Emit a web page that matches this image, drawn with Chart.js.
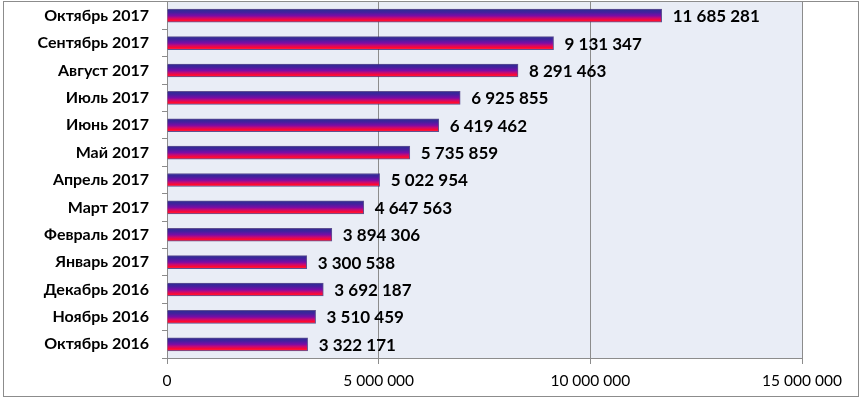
<!DOCTYPE html>
<html>
<head>
<meta charset="utf-8">
<script src="https://cdn.jsdelivr.net/npm/chart.js@4/dist/chart.umd.min.js"></script>
<style>
html,body{margin:0;padding:0;background:#fff;}
#wrap{width:862px;height:399px;position:relative;}
</style>
</head>
<body>
<div id="wrap"><canvas id="c" width="862" height="399"></canvas></div>
<script>
const categories = ["Октябрь 2016","Ноябрь 2016","Декабрь 2016","Январь 2017","Февраль 2017","Март 2017","Апрель 2017","Май 2017","Июнь 2017","Июль 2017","Август 2017","Сентябрь 2017","Октябрь 2017"];
const values = [3322171,3510459,3692187,3300538,3894306,4647563,5022954,5735859,6419462,6925855,8291463,9131347,11685281];
const xTicks = [0,5000000,10000000,15000000];

function fmt(v){ return String(Math.round(v)).replace(/\B(?=(\d{3})+(?!\d))/g, ' '); }

const BAR_T = 13;

const bgPlugin = {
  id:'bg',
  beforeDraw(chart){
    const {ctx, chartArea:a} = chart;
    ctx.save();
    ctx.fillStyle = '#e9edf6';
    ctx.fillRect(a.left, a.top, a.right-a.left, a.bottom-a.top);
    ctx.restore();
  },
  afterDraw(chart){
    const ctx = chart.ctx;
    ctx.save();
    ctx.strokeStyle = '#8c8c8c';
    ctx.lineWidth = 1;
    ctx.strokeRect(3.5, 1.5, 855, 395);
    ctx.restore();
  }
};

const labelPlugin = {
  id:'vals',
  afterDatasetsDraw(chart){
    const ctx = chart.ctx;
    const meta = chart.getDatasetMeta(0);
    ctx.save();
    ctx.font = 'bold 17px Lato';
    ctx.fillStyle = '#000';
    ctx.textBaseline = 'middle';
    ctx.textAlign = 'left';
    meta.data.forEach((el,i)=>{
      ctx.fillText(fmt(values[i]), el.x + 11, el.y + 1);
    });
    ctx.restore();
  }
};

new Chart(document.getElementById('c'), {
  type:'bar',
  data:{
    labels: categories,
    datasets:[{
      data: values,
      barThickness: BAR_T,
      borderWidth: 1,
      borderColor: 'rgba(60,40,120,0.8)',
      backgroundColor: (c)=>{
        const chart = c.chart;
        const ys = chart.scales && chart.scales.y;
        if (!ys || c.dataIndex === undefined) return '#7a1a9a';
        const yc = ys.getPixelForValue(c.dataIndex);
        if (!isFinite(yc)) return '#7a1a9a';
        const g = chart.ctx.createLinearGradient(0, yc - BAR_T/2, 0, yc + BAR_T/2);
        g.addColorStop(0, '#2a2e92');
        g.addColorStop(0.25, '#44209e');
        g.addColorStop(0.5, '#7a0ca6');
        g.addColorStop(0.68, '#c80a72');
        g.addColorStop(0.85, '#ff0830');
        g.addColorStop(1, '#ff2a46');
        return g;
      }
    }]
  },
  options:{
    indexAxis:'y',
    responsive:false,
    animation:false,
    layout:{padding:{left:0,right:60,top:2,bottom:0}},
    plugins:{legend:{display:false},tooltip:{enabled:false}},
    scales:{
      x:{
        min:0,max:15000000,
        afterBuildTicks(s){ s.ticks = xTicks.map(v=>({value:v})); },
        afterFit(s){ s.height = 41; },
        grid:{color:'#8c8c8c',lineWidth:1,tickLength:6,drawOnChartArea:true},
        border:{color:'#8c8c8c'},
        ticks:{color:'#000',font:{family:'Lato',size:15.5},padding:8,maxRotation:0,callback:(v)=>fmt(v)}
      },
      y:{
        reverse:true,
        afterFit(s){ s.width = 167; s.paddingTop = 0; s.paddingBottom = 0; },
        grid:{drawOnChartArea:false,color:'#8c8c8c',tickLength:5,offset:true},
        border:{color:'#8c8c8c'},
        ticks:{color:'#000',font:{family:'Lato',size:16,weight:'bold'},padding:13}
      }
    }
  },
  plugins:[bgPlugin,labelPlugin]
});
</script>
</body>
</html>
